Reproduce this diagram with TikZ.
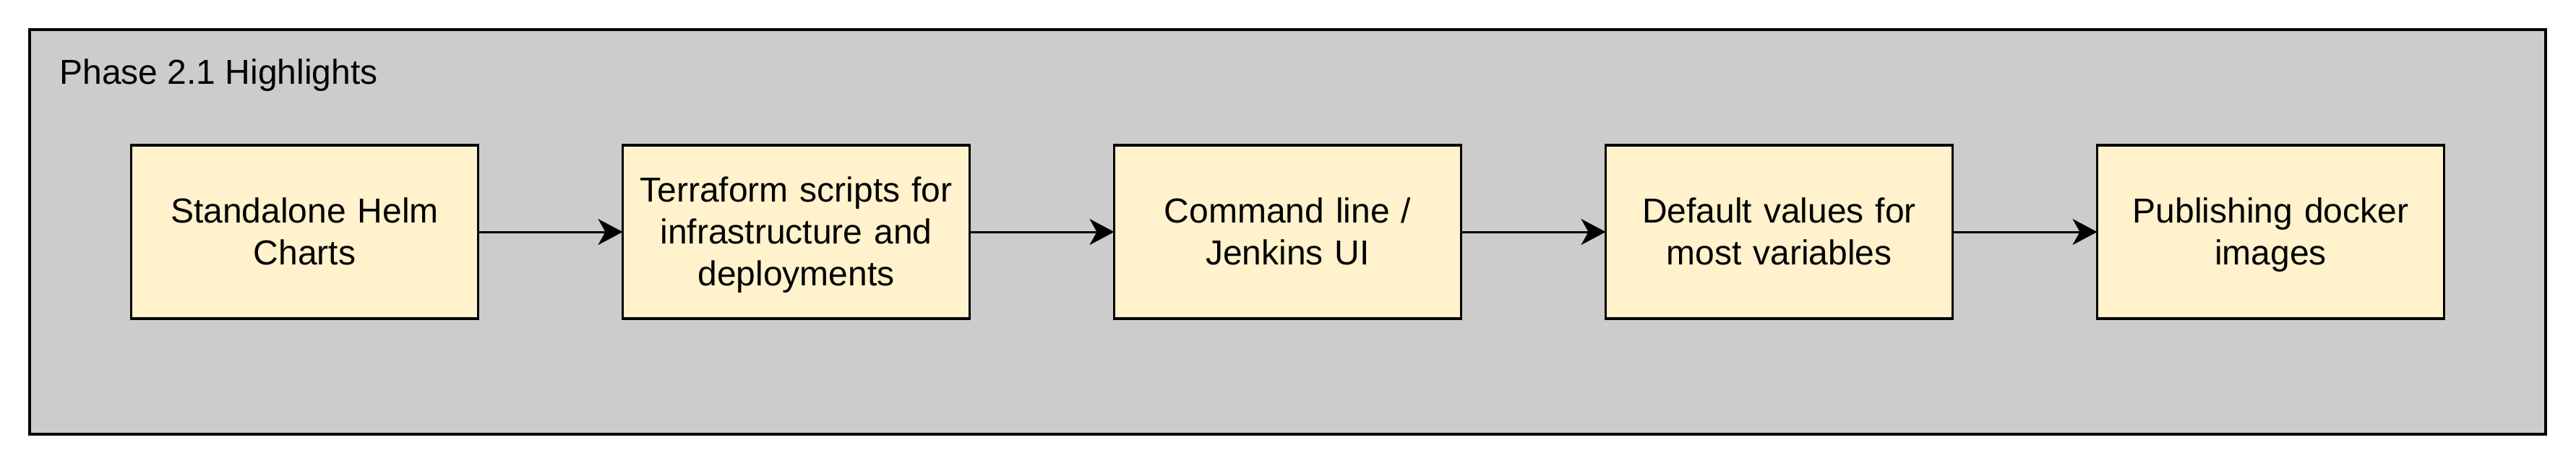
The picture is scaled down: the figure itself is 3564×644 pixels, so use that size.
\documentclass[tikz,border=0pt]{standalone}
\usepackage{fontspec}
\setmainfont{Liberation Sans}
\usetikzlibrary{arrows.meta}
\definecolor{panelgray}{HTML}{CCCCCC}
\definecolor{noteyellow}{HTML}{FFF2CC}
\newcommand{\topstrut}{\rule{0pt}{22.8pt}}
\newcommand{\botstrut}{\rule[-6.2pt]{0pt}{6.2pt}}
\tikzset{
  px/.style={x=0.5pt,y=-0.5pt},
  panel/.style={draw=black,fill=panelgray,line width=1.6pt},
  stepbox/.style={draw=black,fill=noteyellow,line width=1.6pt,minimum width=240pt,minimum height=120pt,
    inner sep=0pt,outer sep=0pt,align=center,text width=230pt,
    font=\fontsize{24pt}{29pt}\selectfont,
    execute at begin node=\topstrut, execute at end node=\botstrut},
  flow/.style={draw=black,line width=1.5pt,-{Stealth[length=17pt,width=18pt,inset=5pt]}},
  title/.style={anchor=base west,inner sep=0pt,font=\fontsize{24pt}{29pt}\selectfont}
}
\begin{document}
\begin{tikzpicture}[px]
\useasboundingbox (0,0) rectangle (3564,644);
\draw[panel] (41,41) rectangle (3522,601);
\node[title] (ttl) at (82,116) {Phase 2.1 Highlights};
\node[stepbox] (b1) at (421.5,321) {Standalone Helm\\Charts};
\node[stepbox] (b2) at (1101.5,321) {Terraform scripts for\\infrastructure and\\deployments};
\node[stepbox] (b3) at (1781.5,321) {Command line /\\Jenkins UI};
\node[stepbox] (b4) at (2461.5,321) {Default values for\\most variables};
\node[stepbox] (b5) at (3141.5,321) {Publishing docker\\images};
\draw[flow] (b1) -- (b2);
\draw[flow] (b2) -- (b3);
\draw[flow] (b3) -- (b4);
\draw[flow] (b4) -- (b5);
\end{tikzpicture}
\end{document}
